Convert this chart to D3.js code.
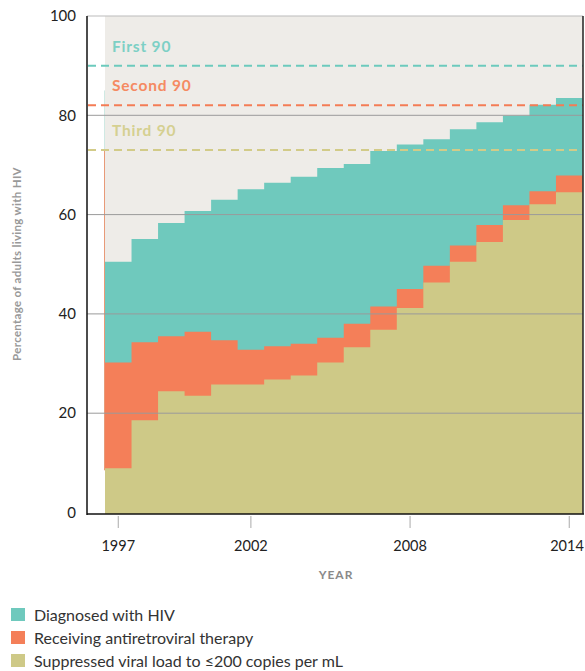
<!DOCTYPE html>
<html><head><meta charset="utf-8">
<script src="https://cdn.jsdelivr.net/npm/d3@7"></script>
<style>body{margin:0;background:#fff;} svg{display:block;font-family:Lato,"Open Sans",sans-serif;}</style>
</head><body>
<svg id="chart" width="585" height="671"></svg>
<script>
const years = [1997,1998,1999,2000,2001,2002,2003,2004,2005,2006,2007,2008,2009,2010,2011,2012,2013,2014];
const diagnosed = [50.5,55.1,58.3,60.7,63.0,65.1,66.4,67.6,69.4,70.2,72.8,74.1,75.2,77.2,78.6,79.9,82.1,83.5];
const onART = [30.2,34.3,35.5,36.4,34.7,32.8,33.5,34.0,35.2,38.0,41.5,45.0,49.7,53.8,57.9,61.9,64.7,67.9];
const suppressed = [8.9,18.6,24.4,23.5,25.8,25.8,26.8,27.6,30.2,33.3,36.8,41.2,46.3,50.5,54.5,58.9,62.1,64.5];
const targets = [{label:"First 90", value:90},{label:"Second 90", value:82},{label:"Third 90", value:73}];
const yTicks = [0,20,40,60,80,100];
const xTicks = [1997,2002,2008,2014];
const seriesNames = ["Diagnosed with HIV","Receiving antiretroviral therapy","Suppressed viral load to \u2264200 copies per mL"];

const colors = ["#6fc9bd","#f47f59","#cec987"];
const lineColors = ["#6ccabd","#f47c55","#d2cb88"];
const labelColors = ["#7dd0c5","#f58a62","#d5d091"];

const svg = d3.select("#chart");
const x = d3.scaleLinear().domain([1996.5, 2014.5]).range([105, 582.5]);
const y = d3.scaleLinear().domain([0, 100]).range([512.5, 16]);
const axisLeft = 87, axisRight = 583, axisBottom = 514;

// background
svg.append("rect").attr("x", x(1996.5)).attr("y", y(100)).attr("width", axisRight - x(1996.5)).attr("height", axisBottom - y(100)).attr("fill", "#eeece8");

function stepData(vals){
  const d = years.map((yr,i)=>({x:yr-0.5, v:vals[i]}));
  d.push({x:years[years.length-1]+0.5, v:vals[vals.length-1]});
  return d;
}
const area = d3.area().curve(d3.curveStepAfter).x(d=>x(d.x)).y0(axisBottom).y1(d=>y(d.v));
[diagnosed, onART, suppressed].forEach((vals,i)=>{
  svg.append("path").datum(stepData(vals)).attr("d", area).attr("fill", colors[i]);
});
// thin vertical edge at start
svg.append("line").attr("x1", x(1996.5)-0.5).attr("x2", x(1996.5)-0.5).attr("y1", y(85)).attr("y2", y(73)).attr("stroke", "#cfe9e3").attr("stroke-width", 1);
svg.append("line").attr("x1", x(1996.5)-0.5).attr("x2", x(1996.5)-0.5).attr("y1", y(73)).attr("y2", y(8.5)).attr("stroke", "#e89a78").attr("stroke-width", 1);

// gridlines
svg.append("g").selectAll("line").data(yTicks.filter(t=>t>0 && t<100)).join("line")
  .attr("x1", axisLeft).attr("x2", axisRight).attr("y1", d=>y(d)).attr("y2", d=>y(d))
  .attr("stroke", "#9a9a9a").attr("stroke-width", 1);
// top border
svg.append("line").attr("x1", axisLeft).attr("x2", axisRight).attr("y1", y(100)).attr("y2", y(100)).attr("stroke", "#bbbbbb").attr("stroke-width", 1);

// target lines
targets.forEach((t,i)=>{
  svg.append("line").attr("x1", axisLeft+1).attr("x2", axisRight).attr("y1", y(t.value)).attr("y2", y(t.value))
    .attr("stroke", lineColors[i]).attr("stroke-width", 2).attr("stroke-dasharray", "8,5");
  svg.append("text").attr("x", 112).attr("y", y(t.value) - 14).text(t.label)
    .attr("fill", labelColors[i]).attr("font-size", 15.5).attr("font-weight", 700).attr("letter-spacing", "0.8px");
});

// axes lines
svg.append("line").attr("x1", axisLeft).attr("x2", axisLeft).attr("y1", y(100)).attr("y2", axisBottom+1).attr("stroke", "#111").attr("stroke-width", 1.5);
svg.append("line").attr("x1", axisLeft).attr("x2", axisRight+1).attr("y1", axisBottom).attr("y2", axisBottom).attr("stroke", "#111").attr("stroke-width", 1.5);
svg.append("line").attr("x1", axisRight).attr("x2", axisRight).attr("y1", y(100)).attr("y2", axisBottom).attr("stroke", "#222").attr("stroke-width", 1.5);

// y ticks
svg.append("g").selectAll("text").data(yTicks).join("text")
  .attr("x", 76).attr("y", d=>y(d)).attr("dy", "0.35em").attr("text-anchor", "end")
  .attr("font-size", 15).attr("fill", "#222").text(d=>d);

// x ticks
const xg = svg.append("g");
xg.selectAll("line").data(xTicks).join("line")
  .attr("x1", d=>x(d)).attr("x2", d=>x(d)).attr("y1", axisBottom+2).attr("y2", axisBottom+14)
  .attr("stroke", "#aaa").attr("stroke-width", 1);
xg.selectAll("text").data(xTicks).join("text")
  .attr("x", d=>Math.min(x(d), 567)).attr("y", 551).attr("text-anchor", "middle")
  .attr("font-size", 14.5).attr("fill", "#222").text(d=>d);

// axis titles
svg.append("text").attr("x", 336).attr("y", 579).attr("text-anchor", "middle")
  .attr("font-size", 12).attr("font-weight", 700).attr("fill", "#8a8a8a").attr("letter-spacing", "1px").text("YEAR");
svg.append("text").attr("transform", "translate(21,264) rotate(-90)").attr("text-anchor", "middle")
  .attr("font-size", 11.5).attr("font-weight", 700).attr("fill", "#999").attr("letter-spacing", "0.3px").text("Percentage of adults living with HIV");

// legend
const lg = svg.append("g");
seriesNames.forEach((n,i)=>{
  lg.append("rect").attr("x", 11).attr("y", 608 + i*23).attr("width", 14).attr("height", 13).attr("fill", colors[i]);
  lg.append("text").attr("x", 34).attr("y", 621 + i*23).attr("font-size", 16).attr("fill", "#333").text(n);
});
</script>
</body></html>
